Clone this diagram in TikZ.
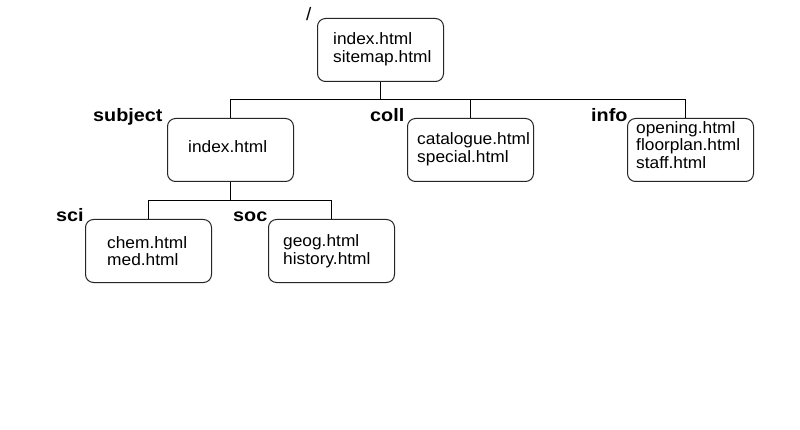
\documentclass[tikz,border=0pt]{standalone}
\usepackage{fontspec}
\setmainfont{Liberation Sans}[FakeStretch=1.05]
\newfontfamily\lblfont{Liberation Sans}[FakeStretch=1.1,UprightFont=*-Bold]
\begin{document}
\begin{tikzpicture}[x=1pt,y=-1pt,
  box/.style={draw=black!85, line width=1pt, rounded corners=8pt, minimum width=126pt, minimum height=63pt, anchor=north west, inner sep=0pt},
  txt/.style={anchor=west, align=left, inner sep=0pt, font=\fontsize{16.5}{17.5}\selectfont},
  lbl/.style={anchor=base west, inner sep=0pt, font=\fontsize{18}{20}\lblfont},
  conn/.style={draw=black, line width=1pt}]
\useasboundingbox[fill=white] (0,0) rectangle (800,430);
% boxes
\node[box] (root) at (317,18) {};
\node[box] (subj) at (167,118) {};
\node[box] (coll) at (407,118) {};
\node[box] (info) at (627,118) {};
\node[box] (sci) at (85,219) {};
\node[box] (soc) at (268,219) {};
% texts
\node[txt] (rootT) at (333,49) {index.html\\sitemap.html};
\node[txt] (subjT) at (188,147) {index.html};
\node[txt] (collT) at (417,149) {catalogue.html\\special.html};
\node[txt] (infoT) at (636,145) {opening.html\\floorplan.html\\staff.html};
\node[txt] (sciT) at (107,251) {chem.html\\med.html};
\node[txt] (socT) at (283,251) {geog.html\\history.html};
% labels
\node[anchor=base west, inner sep=0pt, font=\fontsize{18}{20}\selectfont] (lroot) at (306,21) {/};
\node[lbl] (lsubj) at (93,122) {subject};
\node[lbl] (lcoll) at (370,122) {coll};
\node[lbl] (linfo) at (591,122) {info};
\node[lbl] (lsci) at (56,222) {sci};
\node[lbl] (lsoc) at (233,222) {soc};
% connectors
\coordinate (bus1) at (381,100);
\coordinate (infotop) at (685,118);
\coordinate (bus2) at (231,201);
\draw[conn] (root.south) -- (root.south |- bus1);
\draw[conn] (subj.north) |- (infotop |- bus1) -- (infotop);
\draw[conn] (coll.north) -- (coll.north |- bus1);
\draw[conn] (subj.south) -- (subj.south |- bus2);
\draw[conn] (sci.north) |- (soc.north |- bus2) -- (soc.north);
\end{tikzpicture}
\end{document}
